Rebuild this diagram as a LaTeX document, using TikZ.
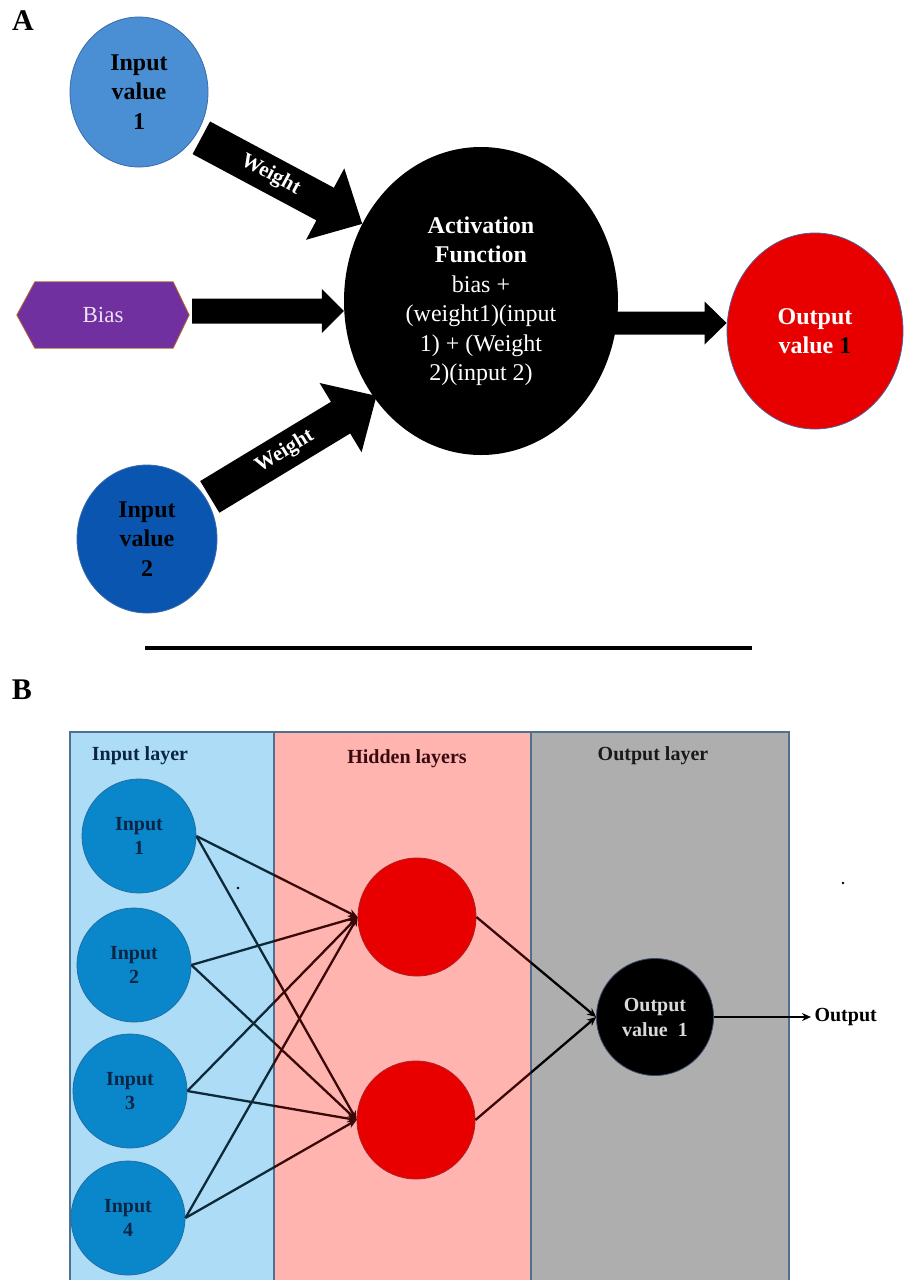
\documentclass[tikz,border=0pt]{standalone}
\usepackage{fontspec}
\setmainfont{Liberation Serif}
\usetikzlibrary{calc,arrows.meta,shapes.geometric}
\definecolor{inAone}{HTML}{4A8FD3}
\definecolor{inAtwo}{HTML}{0A55B0}
\definecolor{inAborder}{HTML}{3A6AA8}
\definecolor{biasfill}{HTML}{7030A0}
\definecolor{biasborder}{HTML}{B86A30}
\definecolor{biastext}{HTML}{ECE2F5}
\definecolor{outred}{HTML}{E80000}
\definecolor{outborder}{HTML}{50609A}
\definecolor{panelblue}{HTML}{ACDCF6}
\definecolor{panelpink}{HTML}{FFB4B0}
\definecolor{panelgray}{HTML}{AEAEAE}
\definecolor{panelborder}{HTML}{50708F}
\definecolor{inB}{HTML}{0A87CB}
\definecolor{inBborder}{HTML}{1E6FA5}
\definecolor{navytext}{HTML}{0B2545}
\definecolor{maroontext}{HTML}{3A0A10}
\definecolor{edgeblue}{HTML}{0E2A3A}
\definecolor{edgered}{HTML}{3A0808}
\definecolor{hidborder}{HTML}{B02020}
\definecolor{outBborder}{HTML}{3A4A6A}
\definecolor{outBtext}{HTML}{D9D9D9}
\newcommand{\blockarrow}[5]{%
  \coordinate (ba-h) at ($(#2)!#5!(#1)$);
  \fill[black] ($(#1)!#3!90:(#2)$) -- ($(ba-h)!#3!90:(#2)$) -- ($(ba-h)!#4!90:(#2)$) -- (#2)
    -- ($(ba-h)!#4!-90:(#2)$) -- ($(ba-h)!#3!-90:(#2)$) -- ($(#1)!#3!-90:(#2)$) -- cycle;}
\begin{document}
\begin{tikzpicture}[x=1pt,y=-1pt,
  paneltag/.style={font=\fontsize{30}{32}\selectfont\bfseries, text=black},
  bigtxt/.style={font=\fontsize{24}{29.5}\selectfont\bfseries, align=center},
  invalue/.style={ellipse, draw=inAborder, line width=0.8pt, inner sep=0pt, bigtxt, text=black},
  weighttxt/.style={font=\fontsize{21}{24}\selectfont\bfseries, text=white, inner sep=0pt},
  layerlabel/.style={font=\fontsize{20}{23}\selectfont\bfseries},
  incircle/.style={circle, fill=inB, draw=inBborder, line width=0.8pt, minimum size=114pt, inner sep=0pt,
     font=\fontsize{20}{23.5}\selectfont\bfseries, text=navytext, align=center},
  hidcircle/.style={circle, fill=outred, draw=hidborder, line width=0.8pt, minimum size=118pt, inner sep=0pt},
  edgeB/.style={line width=2.3pt, -{Stealth[length=9pt,width=8pt]}},
]
\useasboundingbox (0,0) rectangle (904,1280);

% ---------------- Part A ----------------
\node[paneltag] (labA) at (23,21) {A};

\node[invalue, fill=inAone, minimum width=138pt, minimum height=150pt] (in1) at (139,92) {Input\\value\\1};
\node[invalue, fill=inAtwo, minimum width=140pt, minimum height=148pt] (in2) at (147,539) {Input\\value\\2};

\node[ellipse, fill=black, minimum width=274pt, minimum height=308pt, inner sep=0pt,
      text=white, align=center, font=\fontsize{24}{29.5}\selectfont] (act) at (481,301)
  {\textbf{Activation}\\\textbf{Function}\\bias +\\(weight1)(input\\1) + (Weight\\2)(input 2)};

\node[ellipse, fill=outred, draw=outborder, line width=0.8pt, minimum width=176pt, minimum height=196pt,
      inner sep=0pt, bigtxt, text=white] (outA) at (815,331) {Output\\value \textcolor{black}{1}};

% Bias hexagon
\node[minimum width=172pt, minimum height=66pt, inner sep=0pt] (bias) at (103,315) {};
\filldraw[fill=biasfill, draw=biasborder, line width=0.8pt]
  (bias.west) -- ([xshift=18pt]bias.north west) -- ([xshift=-16pt]bias.north east) -- (bias.east)
  -- ([xshift=-16pt]bias.south east) -- ([xshift=18pt]bias.south west) -- cycle;
\node[font=\fontsize{23}{26}\selectfont, text=biastext] (biaslabel) at (bias) {Bias};

% block arrows
\coordinate (w1s) at ($(in1.323)!6pt!(act.147)$);
\coordinate (w1e) at (act.147);
\coordinate (w2s) at ($(in2.34)!4pt!(act.222)$);
\coordinate (w2e) at ($(act.222)!-3pt!(in2.34)$);
\coordinate (bs) at ([xshift=3pt,yshift=4pt]bias.east);
\coordinate (be) at (bs -| act.west);
\coordinate (oe) at ([yshift=8pt]outA.west);
\coordinate (os) at ([xshift=-6pt]oe -| act.east);

\blockarrow{w1s}{w1e}{18.5pt}{40.5pt}{42pt}
\blockarrow{w2s}{w2e}{18.5pt}{40.5pt}{42pt}
\blockarrow{bs}{be}{12.5pt}{22pt}{22pt}
\blockarrow{os}{oe}{11.5pt}{21.5pt}{22pt}

\path (w1s) -- (w1e) node[pos=0.43, sloped, weighttxt] (wt1) {Weight};
\path (w2s) -- (w2e) node[pos=0.45, sloped, weighttxt] (wt2) {Weight};

% separator
\draw[line width=3.5pt, black] (145,648) -- (752,648);

% ---------------- Part B ----------------
\node[paneltag] (labB) at (22,690) {B};

\filldraw[fill=panelblue, draw=panelborder, line width=1.2pt] (70,732) rectangle (274,1284);
\filldraw[fill=panelpink, draw=panelborder, line width=1.2pt] (274,732) rectangle (531,1284);
\filldraw[fill=panelgray, draw=panelborder, line width=1.2pt] (531,732) rectangle (789,1284);

\node[layerlabel, text=navytext] (lin) at (140,756) {Input layer};
\node[layerlabel, text=maroontext] (lhid) at (407,759) {Hidden layers};
\node[layerlabel, text=black!90] (lout) at (653,756) {Output layer};

\node[incircle] (i1) at (139,836) {Input\\1};
\node[incircle] (i2) at (134,965) {Input\\2};
\node[incircle] (i3) at (130,1091) {Input\\3};
\node[incircle] (i4) at (128,1218) {Input\\4};

\node[hidcircle] (h1) at (417,917) {};
\node[hidcircle] (h2) at (416,1120) {};

\node[circle, fill=black, draw=outBborder, line width=0.8pt, minimum size=117pt, inner sep=0pt,
      font=\fontsize{20}{25}\selectfont\bfseries, text=outBtext, align=center] (ob) at (655,1017) {Output\\value\enspace1};

\node[layerlabel, anchor=west, text=black] (olab) at (811,1017) {Output};

% edges input -> hidden, coloured by the panel they cross
\begin{scope}
  \clip (70,732) rectangle (274,1280);
  \foreach \i in {1,...,4}{\foreach \j in {1,2}{\draw[edgeB, draw=edgeblue] (i\i.east) -- (h\j.west);}}
\end{scope}
\begin{scope}
  \clip (274,732) rectangle (531,1280);
  \foreach \i in {1,...,4}{\foreach \j in {1,2}{\draw[edgeB, draw=edgered, fill=edgered] (i\i.east) -- (h\j.west);}}
  \draw[edgeB, draw=edgered] (h1.east) -- (ob.west);
  \draw[edgeB, draw=edgered] (h2.east) -- (ob.west);
\end{scope}
\begin{scope}
  \clip (531,732) rectangle (789,1280);
  \draw[edgeB, draw=black] (h1.east) -- (ob.west);
  \draw[edgeB, draw=black] (h2.east) -- (ob.west);
\end{scope}
\draw[edgeB, draw=black] (ob.east) -- (olab.west);

% stray dots
\fill[black] (238,888) circle (1.3);
\fill[black] (843,883) circle (1.3);
\end{tikzpicture}
\end{document}
